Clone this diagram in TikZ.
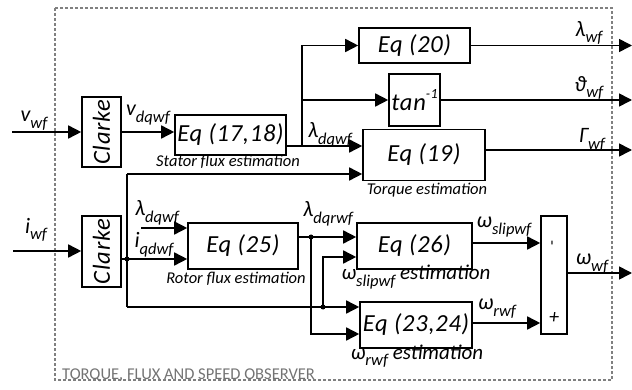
\documentclass[tikz,border=0pt]{standalone}
\usepackage{fontspec}
\setmainfont{Carlito}
\usetikzlibrary{arrows.meta}
\newcommand\sy[2]{#1\raisebox{-0.3em}{\fontsize{16.5}{16.5}\selectfont #2}}
\tikzset{
  blk/.style={draw, line width=1.6pt, inner sep=0pt, font=\fontsize{24.5}{24.5}\selectfont\itshape\addfontfeature{LetterSpace=3}},
  ln/.style={line width=1.6pt},
  arr/.style={ln, -{Triangle[length=13pt,width=13pt]}},
  jdot/.style={circle, fill, inner sep=0pt, minimum size=5pt},
  captxt/.style={inner sep=0pt, font=\fontsize{16.5}{16.5}\selectfont\itshape},
  lab/.style={inner sep=0pt, font=\fontsize{22}{22}\selectfont\itshape},
}
\begin{document}
\begin{tikzpicture}[x=1pt,y=-1pt]
\useasboundingbox (0,0) rectangle (632,390);
\draw[gray, line width=1.3pt, dash pattern=on 3pt off 2pt] (55,8) rectangle (612,380);
\node[anchor=base west, inner sep=0pt, text=gray!90!black, font=\fontsize{16.5}{16.5}\selectfont] (ttl) at (62,379) {TORQUE, FLUX AND SPEED OBSERVER};

% blocks
\node[blk, minimum width=39pt, minimum height=70pt] (c1) at (101.5,132) {\rotatebox{90}{Clarke}};
\node[blk, minimum width=39pt, minimum height=71pt] (c2) at (101.5,251.5) {\rotatebox{90}{Clarke}};
\node[blk, minimum width=111pt, minimum height=40pt] (e1718) at (230.5,135) {Eq (17,18)};
\node[blk, minimum width=111pt, minimum height=35pt] (e20) at (414.5,45.5) {Eq (20)};
\node[blk, minimum width=51pt, minimum height=52pt] (tn) at (414.5,100) {tan\raisebox{0.5em}{\fontsize{14}{14}\selectfont -1}};
\node[blk, minimum width=122pt, minimum height=51pt] (e19) at (424,155) {Eq (19)};
\node[blk, minimum width=110pt, minimum height=46pt] (e25) at (243,246) {Eq (25)};
\node[blk, minimum width=115pt, minimum height=46pt] (e26) at (414.5,246) {Eq (26)};
\node[blk, minimum width=112pt, minimum height=46pt] (e2324) at (416,325) {Eq (23,24)};
\node[blk, minimum width=26pt, minimum height=118pt] (sm) at (554,275) {};
\node[inner sep=0pt, font=\fontsize{16}{16}\selectfont] (minus) at (554,243) {\rotatebox{90}{-}};
\node[inner sep=0pt, font=\fontsize{20}{20}\selectfont\itshape] (plus) at (554,318) {+};

% coordinates
\coordinate (vin) at (12,132);
\coordinate (iin) at (13,251);
\coordinate (j1) at (302,146);
\coordinate (o20) at (632,45.5);
\coordinate (otn) at (632,100);
\coordinate (o19) at (632,150);
\coordinate (j2) at (127,174);
\coordinate (j3) at (127,307);
\coordinate (j4) at (127,259);
\coordinate (lin) at (141,228);
\coordinate (j5) at (311,237);
\coordinate (j6) at (311,334);
\coordinate (j7) at (323,307);
\coordinate (j8) at (323,257);
\coordinate (j9) at (541,243);
\coordinate (j10) at (541,323);
\coordinate (ow) at (632,273);

% connectors
\draw[arr] (vin) -- (vin -| c1.west);
\draw[arr] (c1.east) -- (c1.east -| e1718.west);
\draw[ln] (j1 -| e1718.east) -- (j1);
\draw[arr] (j1) -- (j1 -| e19.west);
\draw[arr] (j1) |- (e20.west);
\draw[arr] (j1 |- tn.west) -- (tn.west);
\draw[arr] (e20.east) -- (o20);
\draw[arr] (tn.east) -- (otn);
\draw[arr] (o19 -| e19.east) -- (o19);
\draw[arr] (j2) -- (j2 -| e19.west);
\draw[ln] (j2) -- (j3);
\draw[arr] (j3) -- (j3 -| e2324.west);
\draw[arr] (iin) -- (iin -| c2.west);
\draw[arr] (j4 -| c2.east) -- (j4 -| e25.west);
\draw[arr] (lin) -- (lin -| e25.west);
\draw[arr] (j5 -| e25.east) -- (j5 -| e26.west);
\draw[arr] (j5) -- (j6) -- (j6 -| e2324.west);
\draw[arr] (j7) -- (j8) -- (j8 -| e26.west);
\draw[arr] (j9 -| e26.east) -- (j9 -| sm.west);
\draw[arr] (j10 -| e2324.east) -- (j10 -| sm.west);
\draw[arr] (ow -| sm.east) -- (ow);
\node[jdot] (d4) at (j4) {};
\node[jdot] (d5) at (j5) {};
\node[jdot] (d7) at (j7) {};

% labels
\node[lab] (lv) at (34,121) {\sy{v}{wf}};
\node[lab] (lvdq) at (148,115) {\sy{v}{dqwf}};
\node[lab] (llam1) at (330,135) {\sy{λ}{dqwf}};
\node[lab] (llam) at (589,33) {\sy{λ}{wf}};
\node[lab] (lth) at (589,88) {\sy{ϑ}{wf}};
\node[lab] (lgam) at (592,140) {\sy{Γ}{wf}};
\node[captxt] (cst) at (228,162) {Stator flux estimation};
\node[captxt] (ctq) at (427,190) {Torque estimation};
\node[lab] (li) at (36,230) {\sy{i}{wf}};
\node[lab] (llam2) at (157,213) {\sy{λ}{dqwf}};
\node[lab] (liq) at (154,245) {\sy{i}{qdwf}};
\node[captxt] (crf) at (236,279) {Rotor flux estimation};
\node[lab] (llr) at (328,214) {\sy{λ}{dqrwf}};
\node[lab] (lws) at (504,227) {\sy{ω}{slipwf}};
\node[captxt] (cws) at (416,277) {\sy{\fontsize{21}{21}\selectfont ω}{slipwf} estimation};
\node[lab] (lwr) at (497,309) {\sy{ω}{rwf}};
\node[captxt] (cwr) at (417,356) {\sy{\fontsize{21}{21}\selectfont ω}{rwf} estimation};
\node[lab] (lww) at (592,264) {\sy{ω}{wf}};
\end{tikzpicture}
\end{document}
